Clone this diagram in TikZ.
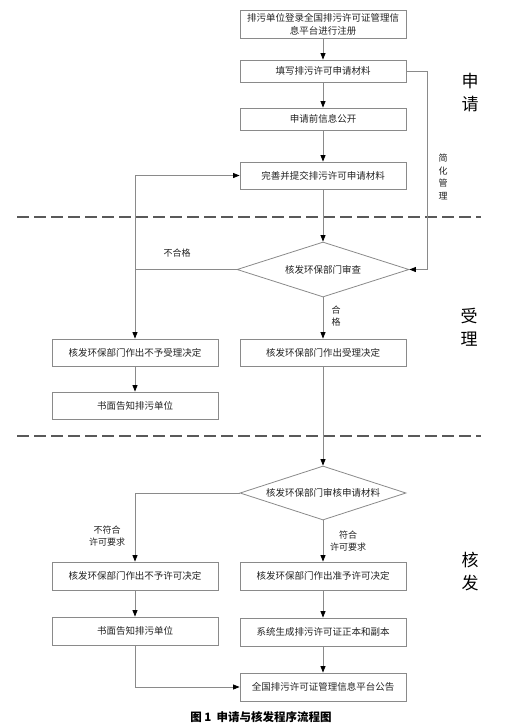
\documentclass[tikz,border=0pt]{standalone}
\usepackage{fontspec}
\setmainfont{Noto Sans CJK SC}
\usetikzlibrary{arrows.meta,shapes.geometric}
\definecolor{linegray}{HTML}{8A8A8A}
\definecolor{txtgray}{HTML}{222222}
\tikzset{
  box/.style={draw=linegray, line width=0.8pt, rectangle, minimum width=166pt, minimum height=28pt, inner sep=0pt, font=\fontsize{9.5}{11}\selectfont, text=txtgray},
  sbox/.style={box, minimum height=22pt},
  decide/.style={draw=linegray, line width=0.8pt, diamond, aspect=3.1, inner sep=0pt, font=\fontsize{9.5}{11}\selectfont, text=txtgray},
  conn/.style={draw=linegray, line width=0.8pt},
  arr/.style={conn, -{Triangle[length=6.5pt,width=5pt,color=black]}},
  lab/.style={font=\fontsize{9}{12.5}\selectfont, text=txtgray, align=center, inner sep=0pt},
  sect/.style={font=\fontsize{17}{23}\selectfont, text=black, align=center, inner sep=0pt},
  sep/.style={draw=black!65, line width=1.3pt, dash pattern=on 12pt off 5pt}
}
\begin{document}
\begin{tikzpicture}[x=1pt,y=-1pt]
\useasboundingbox (0,0) rectangle (519,724);
% phase 1
\node[box, align=center, font=\fontsize{9.5}{13}\selectfont] (b1) at (323,24) {排污单位登录全国排污许可证管理信\\息平台进行注册};
\node[sbox] (b2) at (323,71) {填写排污许可申请材料};
\node[sbox] (b3) at (323,119) {申请前信息公开};
\node[box, minimum height=27pt] (b4) at (323,175.5) {完善并提交排污许可申请材料};
\node[decide, minimum width=172pt, minimum height=55pt] (d1) at (323,269.5) {核发环保部门审查};
% phase 2
\node[box, minimum height=27pt] (nsl) at (135,352.5) {核发环保部门作出不予受理决定};
\node[box, minimum height=27pt] (acc) at (323,352.5) {核发环保部门作出受理决定};
\node[box, minimum height=27pt] (n1) at (135,405.5) {书面告知排污单位};
% phase 3
\node[decide, minimum width=166pt, minimum height=54pt] (d2) at (323,493) {核发环保部门审核申请材料};
\node[box] (deny) at (135,576) {核发环保部门作出不予许可决定};
\node[box] (grant) at (323,576) {核发环保部门作出准予许可决定};
\node[box] (n2) at (135,631) {书面告知排污单位};
\node[box] (gen) at (323,632) {系统生成排污许可证正本和副本};
\node[box] (pub) at (323,687) {全国排污许可证管理信息平台公告};
% separators
\coordinate (s1a) at (17,217); \coordinate (s1b) at (481,217);
\coordinate (s2a) at (17,436); \coordinate (s2b) at (481,436);
\draw[sep] (s1a) -- (s1b);
\draw[sep] (s2a) -- (s2b);
% connectors
\draw[arr] (b1) -- (b2);
\draw[arr] (b2) -- (b3);
\draw[arr] (b3) -- (b4);
\draw[arr] (b4) -- (d1.north);
\coordinate (rt) at (427,71);
\draw[arr] (b2.east) -- (rt) |- (d1.east);
\node[lab] (jh) at (443,177) {简\\化\\管\\理};
\draw[arr] (d1.west) -| (nsl.north);
\coordinate (lj) at (135,269.5);
\draw[arr] (lj) |- (b4.west);
\node[lab] (bhg) at (177,253) {不合格};
\draw[arr] (d1.south) -- (acc.north);
\node[lab] (hg) at (336,316) {合\\格};
\draw[arr] (nsl) -- (n1);
\draw[arr] (acc.south) -- (d2.north);
\draw[arr] (d2.west) -| (deny.north);
\node[lab] (bfh) at (107,536) {不符合\\许可要求};
\draw[arr] (d2.south) -- (grant.north);
\node[lab] (fh) at (348,541) {符合\\许可要求};
\draw[arr] (deny) -- (n2);
\draw[arr] (grant) -- (gen);
\draw[arr] (gen) -- (pub);
\draw[arr] (n2.south) |- (pub.west);
% section labels
\node[sect] (p1) at (470,93) {申\\请};
\node[sect] (p2) at (469,327) {受\\理};
\node[sect] (p3) at (470,572) {核\\发};
% caption
\node[font=\fontsize{11.5}{14}\selectfont\bfseries, inner sep=0pt] (cap) at (261,717) {图 1\ \ 申请与核发程序流程图};
\end{tikzpicture}
\end{document}
